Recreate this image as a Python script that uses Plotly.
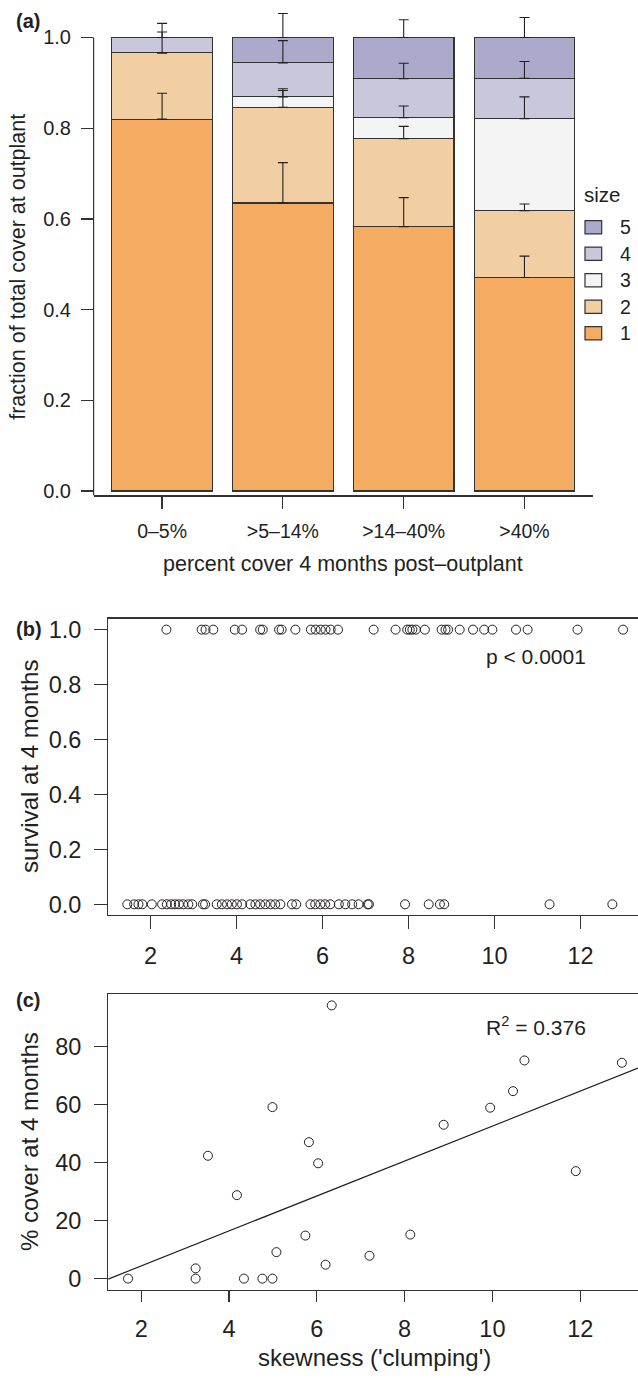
import numpy as np
import plotly.graph_objects as go

W, H = 638, 1378
FONT = "Liberation Sans, Arial, sans-serif"
INK = "#231F20"
AX = "#333333"

# ---------------- data ----------------
# panel (a)
categories = ["0–5%", ">5–14%", ">14–40%", ">40%"]
size_labels = ["1", "2", "3", "4", "5"]
size1 = [0.820, 0.635, 0.583, 0.471]
size2 = [0.146, 0.211, 0.194, 0.147]
size3 = [0.000, 0.023, 0.046, 0.203]
size4 = [0.034, 0.075, 0.086, 0.089]
size5 = [0.000, 0.056, 0.091, 0.090]
err1 = [0.057, 0.089, 0.064, 0.047]
err2 = [0.046, 0.037, 0.027, 0.015]
err3 = [0.000, 0.018, 0.026, 0.048]
err4 = [0.031, 0.049, 0.034, 0.037]
err5 = [0.000, 0.053, 0.039, 0.044]
size_colors = ["#F3AC62", "#F2CFA3", "#F4F4F4", "#C8C7DB", "#ABAACA"]

# panel (b)
skew_survived = [2.37, 3.19, 3.28, 3.46, 3.96, 4.13, 4.55, 4.61, 4.99, 5.05,
                 5.37, 5.73, 5.84, 5.96, 6.07, 6.19, 6.36, 7.19, 7.70, 7.97,
                 8.03, 8.09, 8.17, 8.38, 8.77, 8.86, 8.92, 9.19, 9.50, 9.76,
                 9.95, 10.50, 10.77, 11.93, 12.99]
skew_died = [1.46, 1.62, 1.72, 1.81, 2.03, 2.27, 2.38, 2.48, 2.57, 2.66,
             2.76, 2.88, 2.97, 3.22, 3.27, 3.54, 3.66, 3.78, 3.89, 4.01,
             4.13, 4.32, 4.44, 4.55, 4.67, 4.79, 4.90, 5.02, 5.29, 5.39,
             5.72, 5.83, 5.95, 6.06, 6.18, 6.38, 6.53, 6.69, 6.84, 7.05,
             7.08, 7.92, 8.47, 8.73, 8.83, 11.28, 12.74]

# panel (c)
skew_c = [1.70, 3.24, 3.24, 3.52, 4.18, 4.34, 4.76, 4.99, 4.99, 5.08, 5.74, 5.82,
          6.03, 6.20, 6.34, 7.20, 8.13, 8.89, 9.95, 10.47, 10.73, 11.90, 12.95]
cover_c = [0.0, 3.54, 0.0, 42.4, 28.8, 0.0, 0.0, 0.0, 59.2, 9.14, 14.85, 47.1,
           39.8, 4.8, 94.3, 7.9, 15.2, 53.1, 59.0, 64.7, 75.3, 37.1, 74.5]

y_ticks_a = [0.0, 0.2, 0.4, 0.6, 0.8, 1.0]
x_ticks_bc = [2, 4, 6, 8, 10, 12]
y_ticks_b = [0.0, 0.2, 0.4, 0.6, 0.8, 1.0]
y_ticks_c = [0, 20, 40, 60, 80]


# ---------------- helpers ----------------
def px_x(p):
    return p / W


def px_y(p):
    return 1 - p / H


fig = go.Figure()

# ---- panel (a): stacked bars ----
sizes = [size1, size2, size3, size4, size5]
errs = [err1, err2, err3, err4, err5]
for lab, vals, col in zip(size_labels, sizes, size_colors):
    fig.add_trace(go.Bar(
        x=categories, y=vals, name=lab, width=0.834,
        marker=dict(color=col, line=dict(color=AX, width=1.2)),
        xaxis="x", yaxis="y", showlegend=False,
        hoverinfo="skip",
    ))

tops = np.cumsum(np.array(sizes), axis=0)
for top, e in zip(tops, errs):
    fig.add_trace(go.Scatter(
        x=categories, y=top, mode="markers",
        marker=dict(size=1, color="rgba(0,0,0,0)"),
        error_y=dict(type="data", symmetric=False, array=e,
                     arrayminus=[0] * len(e), width=5, thickness=1.1, color=INK),
        showlegend=False, xaxis="x", yaxis="y", hoverinfo="skip",
    ))

# ---- panel (b) ----
fig.add_trace(go.Scatter(
    x=skew_survived, y=[1] * len(skew_survived), mode="markers",
    marker=dict(symbol="circle-open", size=9, color=INK, line=dict(width=1)),
    showlegend=False, xaxis="x2", yaxis="y2", cliponaxis=False,
))
fig.add_trace(go.Scatter(
    x=skew_died, y=[0] * len(skew_died), mode="markers",
    marker=dict(symbol="circle-open", size=9, color=INK, line=dict(width=1)),
    showlegend=False, xaxis="x2", yaxis="y2", cliponaxis=False,
))

# ---- panel (c) ----
fig.add_trace(go.Scatter(
    x=skew_c, y=cover_c, mode="markers",
    marker=dict(symbol="circle-open", size=9, color=INK, line=dict(width=1)),
    showlegend=False, xaxis="x3", yaxis="y3", cliponaxis=False,
))
xr_c = [1.248, 13.317]
slope, intercept = np.polyfit(skew_c, cover_c, 1)
fig.add_trace(go.Scatter(
    x=xr_c, y=[intercept + slope * v for v in xr_c], mode="lines",
    line=dict(color=INK, width=1.2), showlegend=False,
    xaxis="x3", yaxis="y3", hoverinfo="skip",
))

tick_common = dict(ticks="outside", tickcolor=AX, tickwidth=1.2,
                   showgrid=False, zeroline=False, color=INK)

layout = dict(
    width=W, height=H, autosize=False,
    margin=dict(l=0, r=0, t=0, b=0),
    paper_bgcolor="white", plot_bgcolor="white",
    font=dict(family=FONT, color=INK),
    barmode="stack",
    showlegend=False,
    # panel a
    xaxis=dict(domain=[px_x(93.6), px_x(593.2)], anchor="y",
               range=[-0.567, 3.569], type="category",
               showline=True, linecolor=AX, linewidth=1.2,
               ticklen=12.6, tickfont=dict(size=19.5), ticklabelstandoff=5,
               **tick_common),
    yaxis=dict(domain=[px_y(496.7), px_y(8.3)], anchor="x",
               range=[-0.00964, 1.06], tickvals=y_ticks_a,
               ticktext=[f"{v:.1f}" for v in y_ticks_a],
               showline=False, ticklen=11.6, tickfont=dict(size=20),
               ticklabelstandoff=6,
               **tick_common),
    # panel b
    xaxis2=dict(domain=[px_x(108.2), 1.0], anchor="y2",
                range=[1.0163, 13.337], tickvals=x_ticks_bc,
                showline=True, mirror=True, linecolor=AX, linewidth=1.2,
                ticklen=12.4, tickfont=dict(size=23.5), ticklabelstandoff=7,
                **tick_common),
    yaxis2=dict(domain=[px_y(919.3), px_y(620.7)], anchor="x2",
                range=[-0.04, 1.04], tickvals=y_ticks_b,
                ticktext=[f"{v:.1f}" for v in y_ticks_b],
                showline=True, linecolor=AX, linewidth=1.2,
                ticklen=13, tickfont=dict(size=23.5), ticklabelstandoff=8,
                **tick_common),
    # panel c
    xaxis3=dict(domain=[px_x(108.2), 1.0], anchor="y3",
                range=xr_c, tickvals=x_ticks_bc,
                showline=True, mirror=True, linecolor=AX, linewidth=1.2,
                ticklen=11.5, tickfont=dict(size=23.5), ticklabelstandoff=7,
                **tick_common),
    yaxis3=dict(domain=[px_y(1296), px_y(999)], anchor="x3",
                range=[-3.77, 98.07], tickvals=y_ticks_c,
                showline=True, linecolor=AX, linewidth=1.2,
                ticklen=13, tickfont=dict(size=23.5), ticklabelstandoff=8,
                **tick_common),
)
fig.update_layout(**layout)

# y axis line for panel a (spans 0 .. 1.0 like the reference)
fig.add_shape(type="line", xref="x domain", yref="y",
              x0=0, x1=0, y0=-0.00964, y1=1.0,
              line=dict(color=AX, width=1.2))


def ann(text, x, y, size, xanchor="center", angle=0, bold=False):
    if bold:
        text = f"<b>{text}</b>"
    fig.add_annotation(text=text, x=px_x(x), y=px_y(y), xref="paper", yref="paper",
                       showarrow=False, xanchor=xanchor, yanchor="middle",
                       textangle=angle, font=dict(size=size, family=FONT, color=INK))


# ---- legend for panel (a): "size" with swatches, 5 on top ----
ann("size", 582, 193.3, 20.5, xanchor="left")
leg_top, leg_step = 226.7, 26.67
for i, (lab, col) in enumerate(zip(size_labels[::-1], size_colors[::-1])):
    cy = leg_top + i * leg_step
    fig.add_shape(type="rect", xref="paper", yref="paper",
                  x0=px_x(585), x1=px_x(601.7), y0=px_y(cy + 6.7), y1=px_y(cy - 6.7),
                  fillcolor=col, line=dict(color=AX, width=1.2))
    ann(lab, 617.5, cy, 19.5, xanchor="left")

ann("(a)", 14, 19, 20, xanchor="left", bold=True)
ann("(b)", 14, 631, 20, xanchor="left", bold=True)
ann("(c)", 14, 1005, 20, xanchor="left", bold=True)
ann("fraction of total cover at outplant", 18, 266.5, 21.5, angle=-90)
ann("percent cover 4 months post–outplant", 343.3, 565.5, 21.5)
ann("survival at 4 months", 30, 770, 24, angle=-90)
ann("p < 0.0001", 536, 658.5, 21)
ann("% cover at 4 months", 29, 1147.5, 24, angle=-90)
ann("skewness ('clumping')", 374.3, 1364, 24)
ann("R<sup>2</sup> = 0.376", 536, 1031, 21)

# remove the browser's default page margin so the figure sits at (0, 0)
fig.write_html(
    "out.html",
    config={"displayModeBar": False, "staticPlot": True},
    post_script="document.body.style.margin='0';document.body.style.padding='0';"
                "document.documentElement.style.margin='0';",
)
